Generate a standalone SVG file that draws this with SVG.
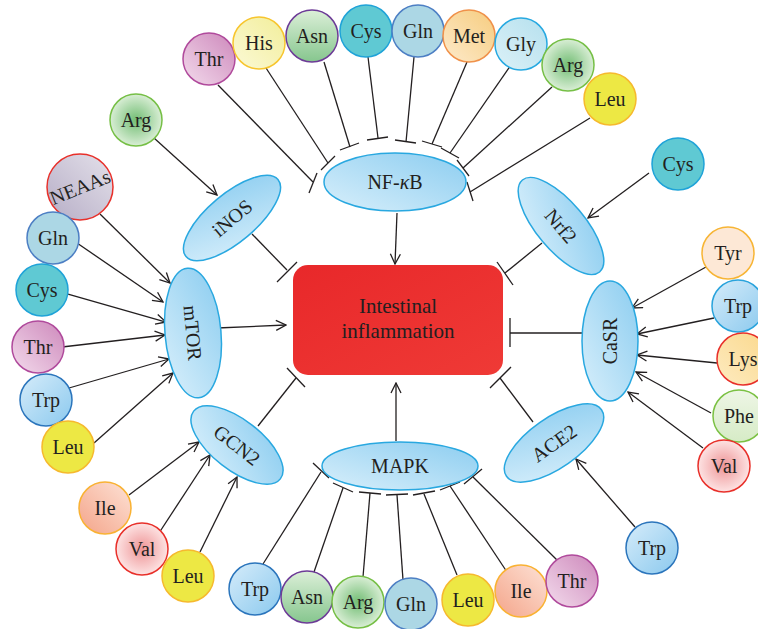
<svg xmlns="http://www.w3.org/2000/svg" width="758" height="629" viewBox="0 0 758 629">
<style>
.ln{stroke:#231f20;stroke-width:1.3;fill:none}
.ar{marker-end:url(#arr)}
.ell{fill:url(#gEll);stroke:#29a8e0;stroke-width:1.5}
.ct{stroke-width:1.5}
.t{font-family:"Liberation Serif","Times New Roman",serif;fill:#231f20;text-anchor:middle}
.cl{font-size:20px}
.el{font-size:20px}
.bx{font-size:21px}
</style>
<defs>
<marker id="arr" viewBox="0 0 12 12" refX="11" refY="6" markerWidth="12" markerHeight="12" markerUnits="userSpaceOnUse" orient="auto"><path d="M1,1 L11,6 L1,11" fill="none" stroke="#231f20" stroke-width="1.3"/></marker>
<linearGradient id="gEll" x1="0" y1="1" x2="1" y2="0"><stop offset="0" stop-color="#d8effb"/><stop offset="1" stop-color="#8ccdf0"/></linearGradient>
<linearGradient id="gBox" x1="0" y1="0" x2="1" y2="1"><stop offset="0" stop-color="#e8282a"/><stop offset="1" stop-color="#ef3a36"/></linearGradient>
<linearGradient id="gThr" x1="0" y1="1" x2="1" y2="0"><stop offset="0" stop-color="#f3dbec"/><stop offset="1" stop-color="#cd88bb"/></linearGradient>
<linearGradient id="gHis" x1="0" y1="1" x2="1" y2="0"><stop offset="0" stop-color="#fbf9d6"/><stop offset="1" stop-color="#f2ee9a"/></linearGradient>
<linearGradient id="gAsn" x1="0" y1="0" x2="0" y2="1"><stop offset="0" stop-color="#dcefd8"/><stop offset="1" stop-color="#86c68e"/></linearGradient>
<linearGradient id="gMet" x1="1" y1="0" x2="0" y2="1"><stop offset="0" stop-color="#f6cc7e"/><stop offset="1" stop-color="#fdeacb"/></linearGradient>
<linearGradient id="gGly" x1="0" y1="1" x2="1" y2="0"><stop offset="0" stop-color="#dcf1f7"/><stop offset="1" stop-color="#b5e0ee"/></linearGradient>
<radialGradient id="gArg"><stop offset="0" stop-color="#72bd74"/><stop offset="1" stop-color="#d9eed5"/></radialGradient>
<linearGradient id="gTrp" x1="0" y1="0" x2="1" y2="1"><stop offset="0" stop-color="#d6ecfa"/><stop offset="1" stop-color="#8bc9ee"/></linearGradient>
<linearGradient id="gLys" x1="0" y1="1" x2="1" y2="0"><stop offset="0" stop-color="#fdebc0"/><stop offset="1" stop-color="#fbd88c"/></linearGradient>
<linearGradient id="gPhe" x1="0" y1="0" x2="0" y2="1"><stop offset="0" stop-color="#eef6e6"/><stop offset="1" stop-color="#d6ebc6"/></linearGradient>
<radialGradient id="gVal"><stop offset="0" stop-color="#ee9496"/><stop offset="1" stop-color="#fde3e3"/></radialGradient>
<linearGradient id="gIle" x1="0" y1="1" x2="1" y2="0"><stop offset="0" stop-color="#f4a489"/><stop offset="1" stop-color="#fde2d6"/></linearGradient>
<linearGradient id="gNE" x1="0" y1="1" x2="1" y2="0"><stop offset="0" stop-color="#b6adc6"/><stop offset="1" stop-color="#e4e1ea"/></linearGradient>
</defs>
<rect width="758" height="629" fill="#ffffff"/>

<g id="connectors">
<!-- NF-kB inhibitions -->
<line class="ln" x1="218" y1="85" x2="313" y2="182"/><line class="ln" x1="309" y1="193" x2="317" y2="173"/>
<line class="ln" x1="266" y1="68" x2="328" y2="163"/><line class="ln" x1="321" y1="170" x2="335" y2="156"/>
<line class="ln" x1="324" y1="62" x2="350" y2="147"/><line class="ln" x1="340" y1="150" x2="359" y2="143"/>
<line class="ln" x1="368" y1="57" x2="378" y2="138"/><line class="ln" x1="367" y1="140" x2="388" y2="137"/>
<line class="ln" x1="414" y1="57" x2="406" y2="142"/><line class="ln" x1="395" y1="140" x2="416" y2="143"/>
<line class="ln" x1="467" y1="62" x2="432" y2="144"/><line class="ln" x1="422" y1="141" x2="442" y2="147"/>
<line class="ln" x1="511" y1="65" x2="450" y2="153"/><line class="ln" x1="441" y1="148" x2="459" y2="158"/>
<line class="ln" x1="552" y1="87" x2="463" y2="168"/><line class="ln" x1="457" y1="160" x2="469" y2="176"/>
<line class="ln" x1="590" y1="118" x2="470" y2="192"/><line class="ln" x1="467" y1="182" x2="473" y2="201"/>
<!-- MAPK inhibitions -->
<line class="ln" x1="263" y1="564" x2="321" y2="472"/><line class="ln" x1="313" y1="463" x2="329" y2="478"/>
<line class="ln" x1="314" y1="572" x2="343" y2="488"/><line class="ln" x1="333" y1="483" x2="353" y2="492"/>
<line class="ln" x1="363" y1="577" x2="370" y2="493"/><line class="ln" x1="359" y1="492" x2="381" y2="494"/>
<line class="ln" x1="403" y1="580" x2="397" y2="495"/><line class="ln" x1="386" y1="495" x2="408" y2="494"/>
<line class="ln" x1="457" y1="575" x2="424" y2="494"/><line class="ln" x1="413" y1="495" x2="435" y2="491"/>
<line class="ln" x1="507" y1="572" x2="450" y2="486"/><line class="ln" x1="440" y1="490" x2="460" y2="482"/>
<line class="ln" x1="557" y1="560" x2="473" y2="477"/><line class="ln" x1="464" y1="484" x2="482" y2="469"/>
<!-- to box -->
<line class="ln ar" x1="397" y1="213" x2="395" y2="264"/>
<line class="ln ar" x1="396" y1="441" x2="396" y2="383"/>
<line class="ln ar" x1="217" y1="328" x2="286" y2="325"/>
<line class="ln" x1="252" y1="234" x2="287" y2="270"/><line class="ln" x1="277" y1="282" x2="297" y2="262"/>
<line class="ln" x1="542" y1="243" x2="505" y2="273"/><line class="ln" x1="497" y1="262" x2="513" y2="285"/>
<line class="ln" x1="582" y1="333" x2="510" y2="333"/><line class="ln" x1="510" y1="318" x2="510" y2="347"/>
<line class="ln" x1="533" y1="422" x2="500" y2="378"/><line class="ln" x1="490" y1="388" x2="511" y2="367"/>
<line class="ln" x1="258" y1="426" x2="296" y2="378"/><line class="ln" x1="287" y1="368" x2="305" y2="387"/>
<!-- activations -->
<line class="ln ar" x1="154" y1="138" x2="217" y2="195"/>
<line class="ln ar" x1="100" y1="214" x2="170" y2="283"/>
<line class="ln ar" x1="77" y1="243" x2="163" y2="302"/>
<line class="ln ar" x1="68" y1="294" x2="166" y2="322"/>
<line class="ln ar" x1="62" y1="347" x2="165" y2="335"/>
<line class="ln ar" x1="69" y1="388" x2="169" y2="359"/>
<line class="ln ar" x1="94" y1="443" x2="173" y2="373"/>
<line class="ln ar" x1="129" y1="495" x2="199" y2="442"/>
<line class="ln ar" x1="159" y1="533" x2="210" y2="455"/>
<line class="ln ar" x1="200" y1="552" x2="237" y2="477"/>
<line class="ln ar" x1="649" y1="173" x2="588" y2="218"/>
<line class="ln ar" x1="706" y1="267" x2="632" y2="308"/>
<line class="ln ar" x1="714" y1="318" x2="637" y2="334"/>
<line class="ln ar" x1="717" y1="363" x2="637" y2="355"/>
<line class="ln ar" x1="711" y1="413" x2="636" y2="372"/>
<line class="ln ar" x1="703" y1="448" x2="628" y2="392"/>
<line class="ln ar" x1="635" y1="527" x2="576" y2="459"/>
</g>

<g id="box">
<rect x="293" y="265" width="210" height="110" rx="15" fill="url(#gBox)"/>
<text class="t bx" x="398" y="313">Intestinal</text>
<text class="t bx" x="398" y="338">inflammation</text>
</g>

<g id="nfkb"><ellipse class="ell" cx="395" cy="182" rx="71" ry="29"/><text class="t el" x="395" y="189">NF-<tspan font-style="italic">κ</tspan>B</text></g>
<g id="inos" transform="translate(232,218) rotate(-40)"><ellipse class="ell" rx="60" ry="24"/><text class="t el" y="7">iNOS</text></g>
<g id="nrf2" transform="translate(561,226) rotate(50)"><ellipse class="ell" rx="60" ry="24"/><text class="t el" y="7">Nrf2</text></g>
<g id="mtor" transform="translate(193,333) rotate(-5)"><ellipse class="ell" rx="28" ry="65"/><text class="t el" transform="rotate(90)" y="7">mTOR</text></g>
<g id="gcn2" transform="translate(237,445) rotate(38)"><ellipse class="ell" rx="55" ry="25"/><text class="t el" y="7">GCN2</text></g>
<g id="mapk"><ellipse class="ell" cx="400" cy="466" rx="78" ry="24"/><text class="t el" x="400" y="473">MAPK</text></g>
<g id="ace2" transform="translate(554,443) rotate(-35)"><ellipse class="ell" rx="58" ry="25"/><text class="t el" y="7">ACE2</text></g>
<g id="casr" transform="translate(610,341)"><ellipse class="ell" rx="28" ry="60"/><text class="t el" transform="rotate(-90)" y="7">CaSR</text></g>

<!-- NF-kB amino acids -->
<g id="nf-thr"><circle class="ct" cx="209" cy="59" r="26" fill="url(#gThr)" stroke="#b04a9c"/><text class="t cl" x="209" y="66">Thr</text></g>
<g id="nf-his"><circle class="ct" cx="259" cy="43" r="26" fill="url(#gHis)" stroke="#f7c52e"/><text class="t cl" x="259" y="50">His</text></g>
<g id="nf-asn"><circle class="ct" cx="312" cy="36" r="26" fill="url(#gAsn)" stroke="#6d3b97"/><text class="t cl" x="312" y="43">Asn</text></g>
<g id="nf-cys"><circle class="ct" cx="366" cy="31" r="26" fill="#5fc9d3" stroke="#1fa3d8"/><text class="t cl" x="366" y="38">Cys</text></g>
<g id="nf-gln"><circle class="ct" cx="418" cy="31" r="26" fill="#acd7e5" stroke="#4d7fc4"/><text class="t cl" x="418" y="38">Gln</text></g>
<g id="nf-met"><circle class="ct" cx="469" cy="36" r="26" fill="url(#gMet)" stroke="#f0914a"/><text class="t cl" x="469" y="43">Met</text></g>
<g id="nf-gly"><circle class="ct" cx="521" cy="44" r="26" fill="url(#gGly)" stroke="#27a9e1"/><text class="t cl" x="521" y="51">Gly</text></g>
<g id="nf-arg"><circle class="ct" cx="568" cy="65" r="26" fill="url(#gArg)" stroke="#76bf46"/><text class="t cl" x="568" y="72">Arg</text></g>
<g id="nf-leu"><circle class="ct" cx="610" cy="99" r="26" fill="#ede844" stroke="#f6b92e"/><text class="t cl" x="610" y="106">Leu</text></g>

<g id="nrf-cys"><circle class="ct" cx="678" cy="164" r="26" fill="#5fc9d3" stroke="#1fa3d8"/><text class="t cl" x="678" y="171">Cys</text></g>

<g id="ca-tyr"><circle class="ct" cx="728" cy="253" r="26" fill="#fde8d6" stroke="#f7b535"/><text class="t cl" x="728" y="260">Tyr</text></g>
<g id="ca-trp"><circle class="ct" cx="738" cy="306" r="26" fill="url(#gTrp)" stroke="#29a3dc"/><text class="t cl" x="738" y="313">Trp</text></g>
<g id="ca-lys"><circle class="ct" cx="743" cy="359" r="26" fill="url(#gLys)" stroke="#e8302a"/><text class="t cl" x="743" y="366">Lys</text></g>
<g id="ca-phe"><circle class="ct" cx="739" cy="416" r="26" fill="url(#gPhe)" stroke="#7bc143"/><text class="t cl" x="739" y="423">Phe</text></g>
<g id="ca-val"><circle class="ct" cx="724" cy="466" r="26" fill="url(#gVal)" stroke="#e8302a"/><text class="t cl" x="724" y="473">Val</text></g>

<g id="ace-trp"><circle class="ct" cx="652" cy="548" r="26" fill="url(#gTrp)" stroke="#2b75bc"/><text class="t cl" x="652" y="555">Trp</text></g>

<!-- MAPK amino acids -->
<g id="ma-trp"><circle class="ct" cx="255" cy="589" r="26" fill="url(#gTrp)" stroke="#2b75bc"/><text class="t cl" x="255" y="596">Trp</text></g>
<g id="ma-asn"><circle class="ct" cx="307" cy="597" r="26" fill="url(#gAsn)" stroke="#6d3b97"/><text class="t cl" x="307" y="604">Asn</text></g>
<g id="ma-arg"><circle class="ct" cx="358" cy="602" r="26" fill="url(#gArg)" stroke="#76bf46"/><text class="t cl" x="358" y="609">Arg</text></g>
<g id="ma-gln"><circle class="ct" cx="411" cy="604" r="26" fill="#acd7e5" stroke="#4d7fc4"/><text class="t cl" x="411" y="611">Gln</text></g>
<g id="ma-leu"><circle class="ct" cx="468" cy="600" r="26" fill="#ede844" stroke="#f6b92e"/><text class="t cl" x="468" y="607">Leu</text></g>
<g id="ma-ile"><circle class="ct" cx="521" cy="591" r="26" fill="url(#gIle)" stroke="#f9b233"/><text class="t cl" x="521" y="598">Ile</text></g>
<g id="ma-thr"><circle class="ct" cx="572" cy="581" r="26" fill="url(#gThr)" stroke="#b04a9c"/><text class="t cl" x="572" y="588">Thr</text></g>

<!-- GCN2 amino acids -->
<g id="gc-ile"><circle class="ct" cx="105" cy="508" r="26" fill="url(#gIle)" stroke="#f9b233"/><text class="t cl" x="105" y="515">Ile</text></g>
<g id="gc-val"><circle class="ct" cx="142" cy="549" r="26" fill="url(#gVal)" stroke="#e8302a"/><text class="t cl" x="142" y="556">Val</text></g>
<g id="gc-leu"><circle class="ct" cx="188" cy="576" r="26" fill="#ede844" stroke="#f6b92e"/><text class="t cl" x="188" y="583">Leu</text></g>

<!-- mTOR amino acids -->
<g id="mt-neaas"><circle class="ct" cx="80" cy="187" r="33" fill="url(#gNE)" stroke="#e8302a"/><text class="t cl" transform="translate(80,187) rotate(-22)" y="7">NEAAs</text></g>
<g id="mt-gln"><circle class="ct" cx="53" cy="238" r="26" fill="#acd7e5" stroke="#4d7fc4"/><text class="t cl" x="53" y="245">Gln</text></g>
<g id="mt-cys"><circle class="ct" cx="42" cy="290" r="26" fill="#5fc9d3" stroke="#1fa3d8"/><text class="t cl" x="42" y="297">Cys</text></g>
<g id="mt-thr"><circle class="ct" cx="38" cy="347" r="26" fill="url(#gThr)" stroke="#b04a9c"/><text class="t cl" x="38" y="354">Thr</text></g>
<g id="mt-trp"><circle class="ct" cx="46" cy="400" r="26" fill="url(#gTrp)" stroke="#2b75bc"/><text class="t cl" x="46" y="407">Trp</text></g>
<g id="mt-leu"><circle class="ct" cx="68" cy="447" r="26" fill="#ede844" stroke="#f6b92e"/><text class="t cl" x="68" y="454">Leu</text></g>

<g id="inos-arg"><circle class="ct" cx="136" cy="120" r="26" fill="url(#gArg)" stroke="#76bf46"/><text class="t cl" x="136" y="127">Arg</text></g>
</svg>
